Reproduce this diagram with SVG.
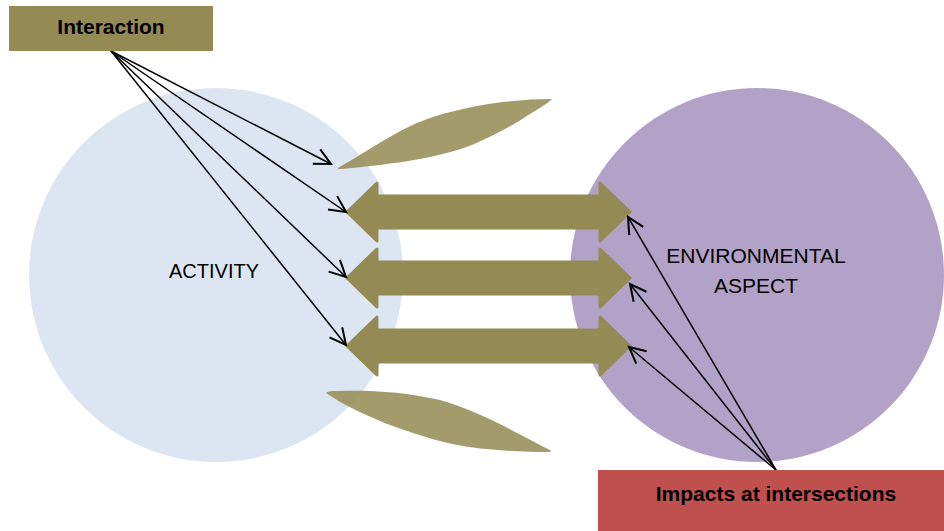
<svg xmlns="http://www.w3.org/2000/svg" width="944" height="531" viewBox="0 0 944 531">
<style>
.lbl{font-family:"Liberation Sans",Arial,sans-serif;fill:#000;text-anchor:middle}
.b{font-weight:bold;font-size:21px}
.conn{stroke:#000;stroke-width:1.5;fill:none;marker-end:url(#open)}
.dbl{fill:#948A54;stroke:#948A54;stroke-width:3;stroke-linejoin:round}
.leaf{fill:#948A54;fill-opacity:0.85}
</style>
<defs>
<marker id="open" markerUnits="userSpaceOnUse" markerWidth="20" markerHeight="20" viewBox="-14 -8 16 16" refX="0" refY="0" orient="auto">
<path d="M-13,-6.5 L0,0 L-13,6.5" fill="none" stroke="#000" stroke-width="1.6"/>
</marker>
</defs>
<g id="activity">
<circle cx="216" cy="275" r="187" fill="#DCE6F2"/>
<text class="lbl" x="214" y="278" font-size="20">ACTIVITY</text>
</g>
<g id="environmental-aspect">
<circle cx="757" cy="275" r="187" fill="#B3A2C7"/>
<text class="lbl" x="756" y="263" font-size="21">ENVIRONMENTAL</text>
<text class="lbl" x="756" y="293" font-size="21">ASPECT</text>
</g>
<g id="leaves">
<path class="leaf" d="M338,168 C370,150 400,127 436,116 C476,104 518,99 552,99 C548,103 540,108 530,114 C512,126 495,135 472,145 C432,160 382,165 342,169 C339,169 337,169 338,168 Z"/>
<path class="leaf" d="M326,393 C328,391 333,391 340,391 C372,390 404,392 440,400 C482,412 522,436 548,449 C552,451 552,452 548,452 C518,452 482,450 452,444 C410,434 360,416 326,393 Z"/>
</g>
<g id="double-arrows">
<path class="dbl" d="M347,212 L377,183 L377,196 L600,196 L600,183 L630,212 L600,241 L600,228 L377,228 L377,241 Z"/>
<path class="dbl" d="M347,278 L377,249 L377,262 L600,262 L600,249 L630,278 L600,307 L600,294 L377,294 L377,307 Z"/>
<path class="dbl" d="M347,346 L377,317 L377,330 L600,330 L600,317 L630,346 L600,375 L600,362 L377,362 L377,375 Z"/>
</g>
<g id="connectors">
<line class="conn" x1="111" y1="51" x2="331" y2="164"/>
<line class="conn" x1="111" y1="51" x2="346" y2="212"/>
<line class="conn" x1="111" y1="51" x2="346" y2="277"/>
<line class="conn" x1="111" y1="51" x2="346" y2="345"/>
<line class="conn" x1="776" y1="470" x2="628" y2="217"/>
<line class="conn" x1="776" y1="470" x2="630" y2="284"/>
<line class="conn" x1="776" y1="470" x2="629" y2="347"/>
</g>
<g id="interaction">
<rect x="9" y="6" width="204" height="45" fill="#948A54"/>
<text class="lbl b" x="111" y="34">Interaction</text>
</g>
<g id="impacts">
<rect x="598" y="470" width="346" height="61" fill="#C0504D"/>
<text class="lbl b" x="776" y="501">Impacts at intersections</text>
</g>
</svg>
